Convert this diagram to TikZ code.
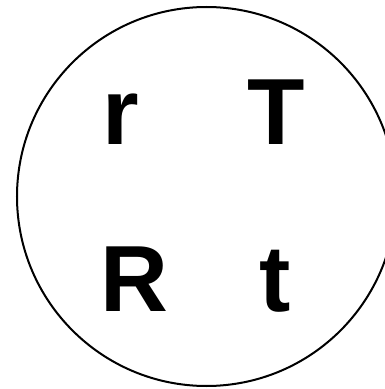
\documentclass[tikz,border=0pt]{standalone}
\usepackage{fontspec}
\setmainfont{Liberation Sans}
\begin{document}
\begin{tikzpicture}[x=1pt,y=1pt,
  letter/.style={inner sep=0pt, anchor=base, font=\bfseries\fontsize{94}{94}\selectfont}]
\useasboundingbox (0,0) rectangle (385,389);
\draw[line width=2pt] (206.5,192.5) circle (189.5);
\node[letter] (r) at (121,244) {r};
\node[letter] (T) at (276,244) {T};
\node[letter] (R) at (134.5,77) {R};
\node[letter] (t) at (275,77) {t};
\end{tikzpicture}
\end{document}
